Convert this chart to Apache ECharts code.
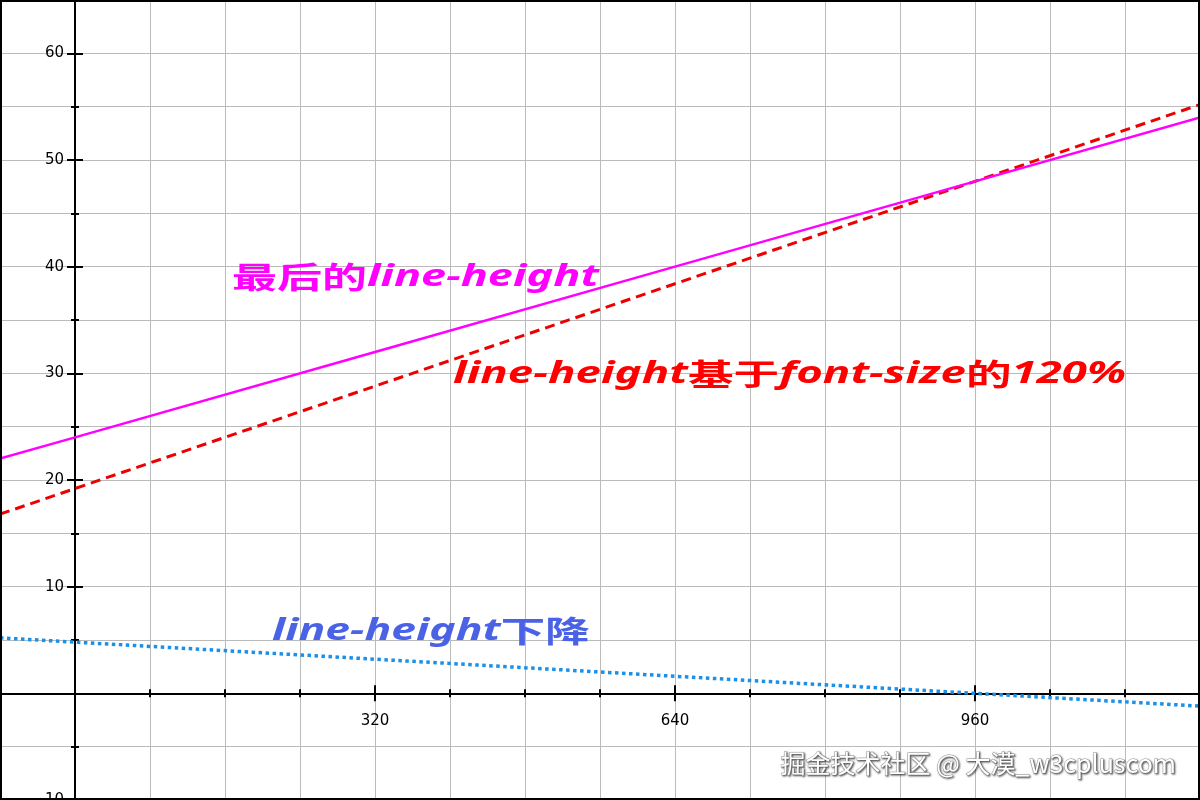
<!DOCTYPE html>
<html>
<head>
<meta charset="utf-8">
<script src="https://cdn.jsdelivr.net/npm/echarts@6/dist/echarts.min.js"></script>
<style>html,body{margin:0;padding:0;background:#fff}#c{width:1200px;height:800px}</style>
</head>
<body>
<div id="c"></div>
<script>
// ---- data ----
var xPoints = [-80, 0, 320, 640, 960, 1200];
var finalLineHeight = [22, 24, 32, 40, 48, 54];          // magenta solid
var lineHeight120 = [16.8, 19.2, 28.8, 38.4, 48, 55.2];  // red dashed
var lineHeightDrop = [5.2, 4.8, 3.2, 1.6, 0, -1.2];      // blue dotted
var xTickLabels = [320, 640, 960];
var yTickLabels = [-10, 10, 20, 30, 40, 50, 60];
var labelFinal = ['最后的', 'line-height'];
var label120 = ['line-height', '基于', 'font-size', '的', '120%'];
var labelDrop = ['line-height', '下降'];
var watermark = '掘金技术社区 @ 大漠_w3cpluscom';

function pairs(xs, ys) { return xs.map(function (x, i) { return [x, ys[i]]; }); }

var chart = echarts.init(document.getElementById('c'), null, { renderer: 'canvas' });

var AX = { color: '#000', width: 2 };
var X_MIN = -80, X_MAX = 1200, X_INT = 80;
var Y_MIN = -10, Y_MAX = 65, Y_INT = 5;
function xAxisDef(opts) {
  return Object.assign({
    type: 'value', position: 'bottom', min: X_MIN, max: X_MAX, interval: X_INT,
    axisLine: { show: true, onZero: true, onZeroAxisIndex: 0, lineStyle: AX },
    axisTick: { show: true, length: 4, inside: false, lineStyle: AX },
    axisLabel: { show: false },
    splitLine: { show: false }
  }, opts);
}
function yAxisDef(opts) {
  return Object.assign({
    type: 'value', position: 'left', min: Y_MIN, max: Y_MAX, interval: Y_INT,
    axisLine: { show: true, onZero: true, onZeroAxisIndex: 0, lineStyle: AX },
    axisTick: { show: true, length: 4, inside: false, lineStyle: AX },
    axisLabel: { show: false },
    splitLine: { show: false }
  }, opts);
}
var labelFont = { color: '#000', fontSize: 15, fontFamily: 'DejaVu Sans' };

function richText(parts, kinds) {
  return parts.map(function (p, i) { return '{' + kinds[i] + '|' + p + '}'; }).join('');
}
function richStyles(color) {
  return {
    c: { fontFamily: 'Noto Sans CJK SC', fontWeight: 'bold', fontSize: 30, fill: color },
    l: { fontFamily: 'Noto Sans', fontStyle: 'italic', fontWeight: 'bold', fontSize: 30, fill: color }
  };
}

var option = {
  animation: false,
  backgroundColor: '#fff',
  grid: { left: 0, right: 0, top: 0, bottom: 0, containLabel: false, outerBoundsMode: 'none' },
  xAxis: [
    xAxisDef({ splitLine: { show: true, lineStyle: { color: '#bbbbbb', width: 1 } } }),
    xAxisDef({ axisTick: { show: true, length: 4, inside: true, lineStyle: AX } }),
    xAxisDef({ axisTick: { show: true, length: 8, inside: false, customValues: xTickLabels, lineStyle: AX } }),
    xAxisDef({ axisTick: { show: true, length: 8, inside: true, customValues: xTickLabels, lineStyle: AX } }),
    xAxisDef({
      axisLine: { show: false, onZero: false }, axisTick: { show: false }, offset: 0,
      axisLabel: Object.assign({ show: true, customValues: xTickLabels, margin: 20 }, labelFont)
    })
  ],
  yAxis: [
    yAxisDef({ splitLine: { show: true, lineStyle: { color: '#bbbbbb', width: 1 } } }),
    yAxisDef({ axisTick: { show: true, length: 4, inside: true, lineStyle: AX } }),
    yAxisDef({ axisTick: { show: true, length: 8, inside: false, customValues: yTickLabels, lineStyle: AX } }),
    yAxisDef({ axisTick: { show: true, length: 8, inside: true, customValues: yTickLabels, lineStyle: AX } }),
    yAxisDef({
      axisLine: { show: false, onZero: false }, axisTick: { show: false }, offset: 0,
      axisLabel: Object.assign({ show: true, customValues: yTickLabels, margin: 11 }, labelFont)
    })
  ],
  series: [
    {
      type: 'line', data: pairs(xPoints, lineHeight120), showSymbol: false, z: 3,
      lineStyle: { color: '#ee0000', width: 3, type: [10, 6] }
    },
    {
      type: 'line', data: pairs(xPoints, finalLineHeight), showSymbol: false, z: 4,
      lineStyle: { color: '#ff00ff', width: 2.5 }
    },
    {
      type: 'line', data: pairs(xPoints, lineHeightDrop), showSymbol: false, z: 3,
      lineStyle: { color: '#1a90e8', width: 3.5, type: [3.5, 3.5] }
    }
  ],
  graphic: [
    {
      type: 'text', x: 232, y: 277, scaleX: 1.5, z: 100,
      style: { text: richText(labelFinal, ['c', 'l']), textAlign: 'left', verticalAlign: 'middle', rich: richStyles('#ff00ff') }
    },
    {
      type: 'text', x: 453, y: 374, scaleX: 1.52, z: 100,
      style: { text: richText(label120, ['l', 'c', 'l', 'c', 'l']), textAlign: 'left', verticalAlign: 'middle', rich: richStyles('#ff0000') }
    },
    {
      type: 'text', x: 272, y: 631, scaleX: 1.48, z: 100,
      style: { text: richText(labelDrop, ['l', 'c']), textAlign: 'left', verticalAlign: 'middle', rich: richStyles('#4a63e6') }
    },
    {
      type: 'text', x: 1176, y: 763, z: 100,
      style: {
        text: watermark, textAlign: 'right', verticalAlign: 'middle',
        fontFamily: 'Noto Sans CJK SC', fontSize: 25, fill: '#ffffff',
        stroke: '#9a9a9a', lineWidth: 1,
        textShadowColor: 'rgba(0,0,0,0.55)', textShadowBlur: 2, textShadowOffsetX: 1, textShadowOffsetY: 1
      }
    },
    {
      type: 'rect', z: 200, silent: true,
      shape: { x: 1, y: 1, width: 1198, height: 798 },
      style: { fill: null, stroke: '#000', lineWidth: 2 }
    }
  ]
};
chart.setOption(option);

// place the label-only axes on the zero lines (labels follow the crossing axes)
var zeroX = chart.convertToPixel({ xAxisIndex: 0 }, 0);
var zeroY = chart.convertToPixel({ yAxisIndex: 0 }, 0);
var h = chart.getHeight();
chart.setOption({
  xAxis: [{}, {}, {}, {}, { offset: zeroY - h }],
  yAxis: [{}, {}, {}, {}, { offset: -zeroX }]
});
</script>
</body>
</html>
